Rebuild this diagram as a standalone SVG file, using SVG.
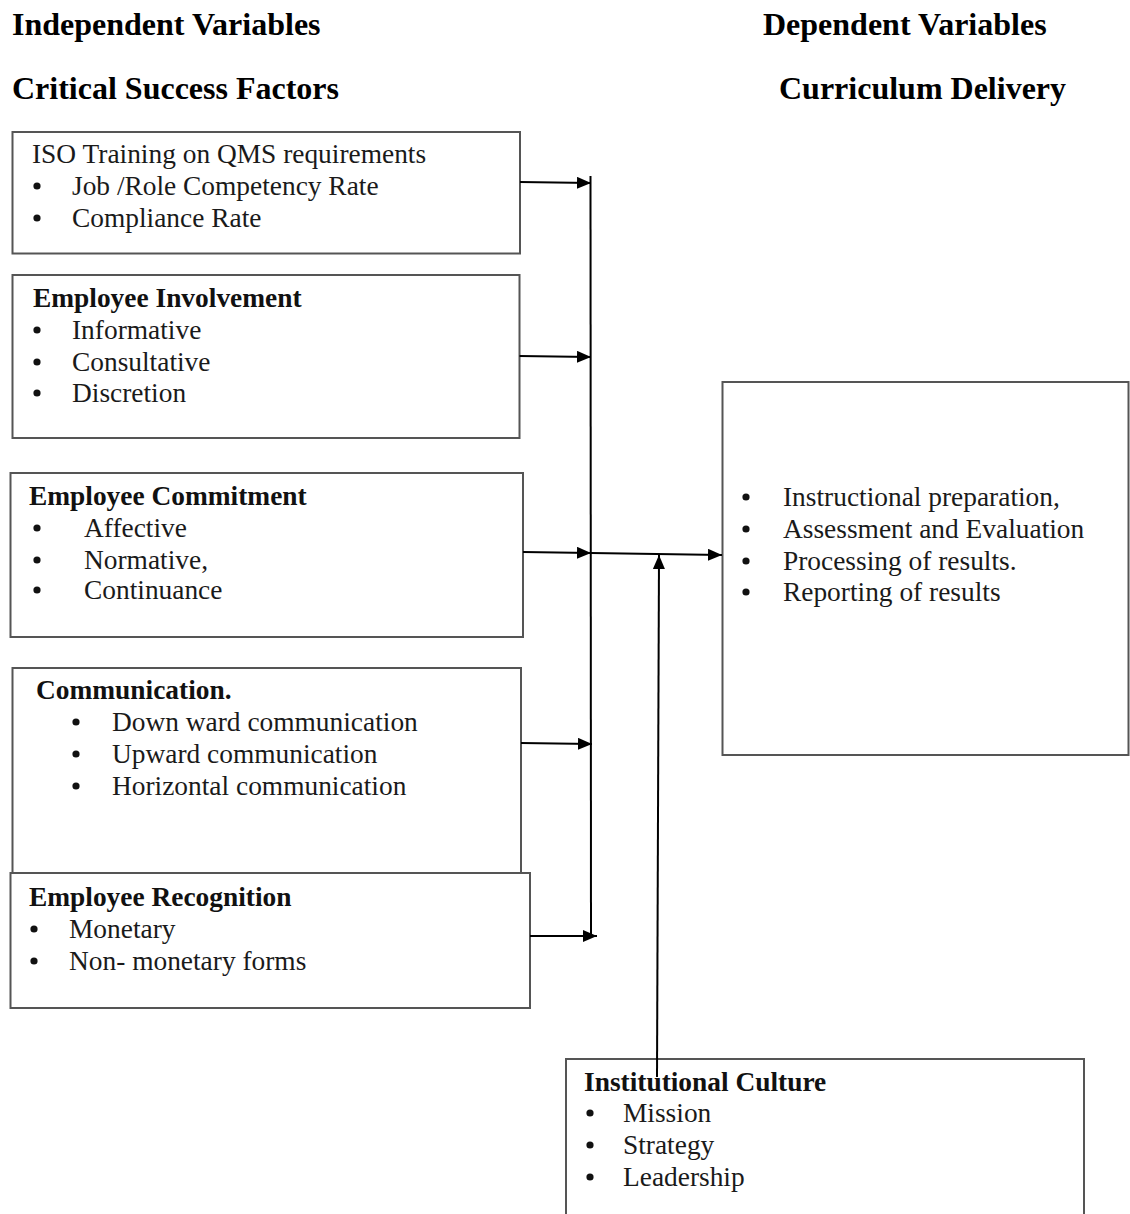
<svg xmlns="http://www.w3.org/2000/svg" width="1130" height="1214" viewBox="0 0 1130 1214">
  <style>
    .hdr { font-family: "Liberation Serif", "Times New Roman", serif; font-weight: bold; font-size: 32px; fill: #000; }
    .t { font-family: "Liberation Serif", "Times New Roman", serif; font-size: 27.4px; fill: #1a1a1a; }
    .b { font-weight: bold; fill: #111; }
    .dot { fill: #111; }
    .box { fill: #fff; stroke: #555; stroke-width: 2; }
    .con { fill: none; stroke: #000; stroke-width: 2; }
  </style>
  <defs>
    <marker id="arrow" viewBox="0 0 14 12" refX="14" refY="6" markerWidth="14" markerHeight="12" markerUnits="userSpaceOnUse" orient="auto">
      <path d="M0,0 L14,6 L0,12 Z" fill="#000"/>
    </marker>
    <circle id="bullet" r="3.6"/>
  </defs>

  <rect width="1130" height="1214" fill="#fff"/>

  <!-- Column headings -->
  <g id="headings">
    <text class="hdr" x="12" y="35">Independent Variables</text>
    <text class="hdr" x="12" y="99">Critical Success Factors</text>
    <text class="hdr" x="763" y="35">Dependent Variables</text>
    <text class="hdr" x="779" y="99">Curriculum Delivery</text>
  </g>

  <!-- Independent variables -->
  <g id="iso-training">
    <rect class="box" x="12.5" y="132" width="507.5" height="121.5"/>
    <text class="t" x="32" y="163">ISO Training on QMS requirements</text>
    <use href="#bullet" class="dot" x="37" y="186"/>
    <text class="t" x="72" y="195">Job /Role Competency Rate</text>
    <use href="#bullet" class="dot" x="37" y="218"/>
    <text class="t" x="72" y="227">Compliance Rate</text>
  </g>

  <g id="employee-involvement">
    <rect class="box" x="12.5" y="275" width="507" height="163"/>
    <text class="t b" x="33" y="307">Employee Involvement</text>
    <use href="#bullet" class="dot" x="37" y="330"/>
    <text class="t" x="72" y="339">Informative</text>
    <use href="#bullet" class="dot" x="37" y="362"/>
    <text class="t" x="72" y="371">Consultative</text>
    <use href="#bullet" class="dot" x="37" y="393"/>
    <text class="t" x="72" y="402">Discretion</text>
  </g>

  <g id="employee-commitment">
    <rect class="box" x="10.5" y="473" width="512.5" height="164"/>
    <text class="t b" x="29" y="505">Employee Commitment</text>
    <use href="#bullet" class="dot" x="37" y="528"/>
    <text class="t" x="84" y="537">Affective</text>
    <use href="#bullet" class="dot" x="37" y="560"/>
    <text class="t" x="84" y="569">Normative,</text>
    <use href="#bullet" class="dot" x="37" y="590"/>
    <text class="t" x="84" y="599">Continuance</text>
  </g>

  <g id="communication">
    <rect class="box" x="12.5" y="668" width="508.5" height="205"/>
    <text class="t b" x="36" y="699">Communication.</text>
    <use href="#bullet" class="dot" x="76" y="722"/>
    <text class="t" x="112" y="731">Down ward communication</text>
    <use href="#bullet" class="dot" x="76" y="754"/>
    <text class="t" x="112" y="763">Upward communication</text>
    <use href="#bullet" class="dot" x="76" y="786"/>
    <text class="t" x="112" y="795">Horizontal communication</text>
  </g>

  <g id="employee-recognition">
    <rect class="box" x="10.5" y="873" width="519.5" height="135"/>
    <text class="t b" x="29" y="906">Employee Recognition</text>
    <use href="#bullet" class="dot" x="34" y="929"/>
    <text class="t" x="69" y="938">Monetary</text>
    <use href="#bullet" class="dot" x="34" y="961"/>
    <text class="t" x="69" y="970">Non- monetary  forms</text>
  </g>

  <!-- Dependent variable -->
  <g id="curriculum-delivery">
    <rect class="box" x="722.5" y="382" width="406" height="373"/>
    <use href="#bullet" class="dot" x="746" y="497"/>
    <text class="t" x="783" y="506">Instructional preparation,</text>
    <use href="#bullet" class="dot" x="746" y="529"/>
    <text class="t" x="783" y="538">Assessment and Evaluation</text>
    <use href="#bullet" class="dot" x="746" y="561"/>
    <text class="t" x="783" y="570">Processing of results.</text>
    <use href="#bullet" class="dot" x="746" y="592"/>
    <text class="t" x="783" y="601">Reporting of results</text>
  </g>

  <!-- Moderating variable -->
  <g id="institutional-culture">
    <rect class="box" x="566" y="1059" width="518" height="180"/>
    <text class="t b" x="584" y="1091">Institutional Culture</text>
    <use href="#bullet" class="dot" x="590" y="1113"/>
    <text class="t" x="623" y="1122">Mission</text>
    <use href="#bullet" class="dot" x="590" y="1145"/>
    <text class="t" x="623" y="1154">Strategy</text>
    <use href="#bullet" class="dot" x="590" y="1177"/>
    <text class="t" x="623" y="1186">Leadership</text>
  </g>

  <!-- Connectors -->
  <g id="connectors">
    <line class="con" x1="590.5" y1="176" x2="591" y2="937"/>
    <line class="con" x1="520" y1="182" x2="591" y2="183" marker-end="url(#arrow)"/>
    <line class="con" x1="519.5" y1="356" x2="591" y2="357" marker-end="url(#arrow)"/>
    <line class="con" x1="523" y1="552" x2="591" y2="553" marker-end="url(#arrow)"/>
    <line class="con" x1="521" y1="743" x2="592" y2="744" marker-end="url(#arrow)"/>
    <line class="con" x1="530" y1="936" x2="597" y2="936" marker-end="url(#arrow)"/>
    <line class="con" x1="591" y1="553" x2="722" y2="555" marker-end="url(#arrow)"/>
    <line class="con" x1="657" y1="1077" x2="659" y2="555" marker-end="url(#arrow)"/>
  </g>
</svg>
